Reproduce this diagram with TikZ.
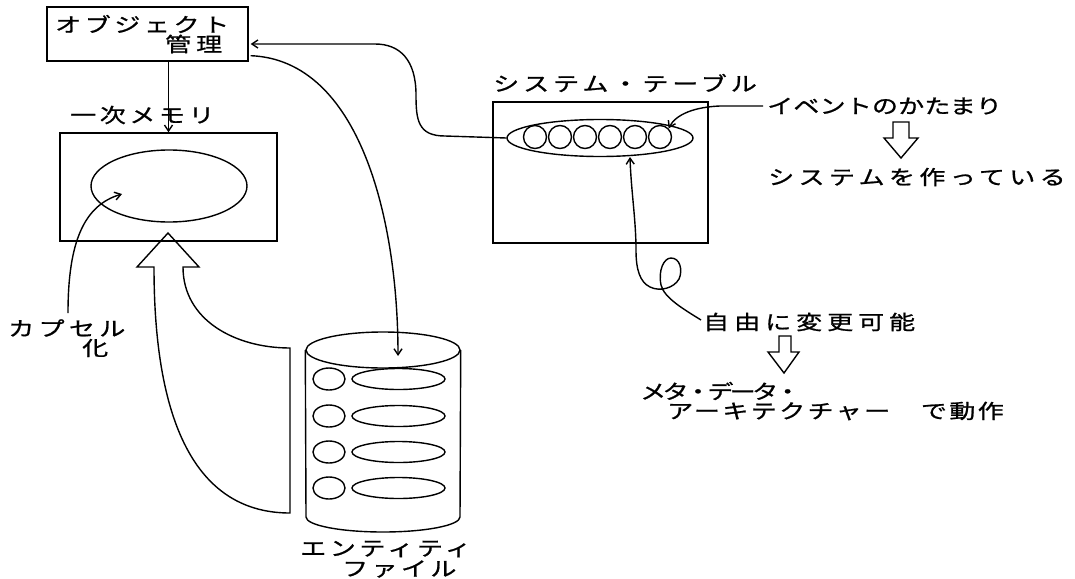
\documentclass[tikz,border=0pt]{standalone}
\usepackage{fontspec}
\newfontfamily\jp{Noto Sans CJK JP}[FakeStretch=1.3,FakeBold=1]
\usetikzlibrary{arrows.meta,calc,shapes.geometric}
\newcommand{\lsp}[1]{\addfontfeature{LetterSpace=#1}}
\begin{document}
\begin{tikzpicture}[x=1pt,y=-1pt,
  ln/.style={line width=1.4pt},
  arr/.style={ln,-{Straight Barb[length=6pt,width=8pt]}},
  lbl/.style={font=\jp\fontsize{20}{20}\selectfont, inner sep=0pt, anchor=west},
  rbox/.style={draw,ln,inner sep=0pt},
  ell/.style={draw,ln,ellipse,inner sep=0pt},
  hollow/.style={ln}]
\useasboundingbox (0,0) rectangle (1075,578);

% ---- object management
\node[rbox,minimum width=201pt,minimum height=54pt] (obj) at (147.5,34) {};
\node[lbl] (objt1) at (55,24) {\lsp{18}オブジェクト};
\node[lbl] (objt2) at (165,44) {\lsp{25}管理};

% ---- primary memory
\node[lbl] (memt) at (70,115) {\lsp{18}一次メモリ};
\node[rbox,minimum width=217pt,minimum height=108pt] (mem) at (168.5,187) {};
\node[ell,minimum width=156pt,minimum height=72pt] (memell) at (169,186) {};
\draw[arr] (obj.south -| mem.north) -- (mem.north);

% ---- encapsulation
\node[lbl] (kap) at (8,328) {\lsp{22}カプセル};
\node[lbl] (kap2) at (82,348) {化};
\coordinate (kapTop) at (68,313);
\coordinate (encTip) at (122,194);
\draw[arr] (kapTop) .. controls (68,240) and (85,205) .. (encTip);

% ---- big hollow arrow
\draw[hollow] (168,233) -- (199,267) -- (183,267)
  .. controls (183,320) and (235,348) .. (290,348) -- (290,513)
  .. controls (200,513) and (154,430) .. (154,267) -- (137,267) -- cycle;

% ---- entity file cylinder
\node[ell,minimum width=154pt,minimum height=36pt] (cyltop) at (383,350) {};
\draw[ln] (cyltop.west) -- (306,517) arc[start angle=180,end angle=360,x radius=77pt,y radius=15pt] -- (cyltop.east);
\foreach \i/\yy in {1/379,2/416,3/452,4/488}{
  \node[ell,minimum width=32pt,minimum height=22pt] (rc\i) at (329,\yy) {};
  \node[ell,minimum width=93pt,minimum height=21pt] (re\i) at (398.5,\yy) {};
}
\node[lbl] (ent1) at (300,549) {\lsp{18}エンティティ};
\node[lbl] (ent2) at (342,569) {\lsp{17}ファイル};
\coordinate (cylIn) at (398,356);
\draw[arr] ($(obj.south east)+(2,-6)$) .. controls (360,60) and (398,220) .. (cylIn);

% ---- system table
\node[lbl] (syst) at (493,83) {\lsp{20}システム・テーブル};
\node[rbox,minimum width=215pt,minimum height=141pt] (sys) at (600.5,172.5) {};
\node[ell,minimum width=186pt,minimum height=37pt] (sysell) at (600,138) {};
\foreach \i in {1,...,6}{
  \node[draw,ln,circle,minimum size=23pt,inner sep=0pt] (c\i) at ({510+25*\i},137) {};
}
\draw[arr] (sysell.west) -- (445,136) .. controls (418,136) and (416,120) .. (416,95)
  .. controls (416,60) and (400,44) .. (375,44) -- ($(obj.east)+(2,10)$);

% ---- events
\node[lbl] (evt) at (767,106) {\lsp{1}イベントのかたまり};
\draw[arr] ($(evt.west)+(-4,0)$) -- (720,106) .. controls (695,107) and (676,114) .. (c6.north east);
\draw[hollow] (893,122) -- (909,122) -- (909,138) -- (918,138) -- (901,158) -- (884,138) -- (893,138) -- cycle;
\node[lbl] (mk) at (768,177) {\lsp{22}システムを作っている};

% ---- freely changeable
\node[lbl] (free) at (703,322) {\lsp{25}自由に変更可能};
\coordinate (freeTip) at (630,157);
\draw[arr] ($(free.west)+(-2,-2)$) .. controls (685,310) and (664,298) .. (661,285)
  .. controls (658,270) and (664,258) .. (671,258)
  .. controls (680,258) and (683,270) .. (679,279)
  .. controls (674,288) and (660,292) .. (650,287)
  .. controls (640,282) and (636,270) .. (636,250)
  .. controls (636,220) and (631,190) .. (freeTip);
\draw[hollow] (779,336) -- (791,336) -- (791,352) -- (799,352) -- (784,373) -- (768,352) -- (779,352) -- cycle;
\node[lbl] (meta1) at (640,391) {\lsp{-18}メタ・データ・};
\node[lbl] (meta2) at (667,411) {\lsp{12}アーキテクチャー　で動作};
\end{tikzpicture}
\end{document}
